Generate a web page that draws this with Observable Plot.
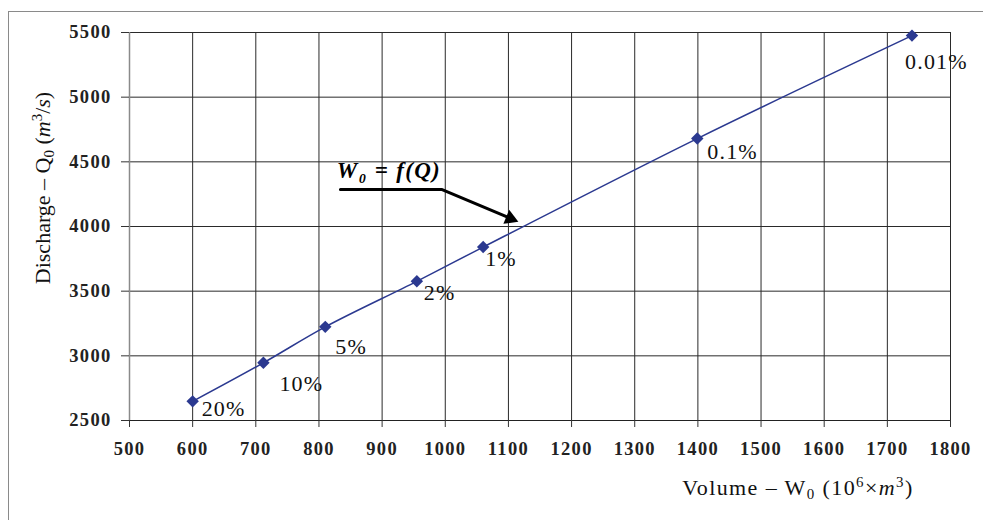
<!DOCTYPE html>
<html>
<head>
<meta charset="utf-8">
<script src="https://cdn.jsdelivr.net/npm/d3@7"></script>
<script src="https://cdn.jsdelivr.net/npm/@observablehq/plot@0.6"></script>
<style>
  body { margin: 0; background: #fff; }
  #wrap { position: relative; width: 983px; height: 520px; overflow: hidden; font-family: "Liberation Serif", serif; }
  #frame { position: absolute; left: 8px; top: 11px; width: 1000px; height: 600px; border-left: 1.5px solid #8a8a8a; border-top: 1.5px solid #8a8a8a; }
  .ttl { position: absolute; font-family: "Liberation Serif", serif; font-size: 22px; white-space: nowrap; color: #111; line-height: 1; }
  .ttl sub { font-size: 0.68em; vertical-align: -0.25em; }
  .ttl sup { font-size: 0.68em; vertical-align: 0.55em; }
  svg text { font-family: "Liberation Serif", serif !important; }
  .tick-lbl text { letter-spacing: 1.3px; }
  .pct text { letter-spacing: 1.2px; }
  .ann text { letter-spacing: 1.3px; }
</style>
</head>
<body>
<div id="wrap">
  <div id="frame"></div>
</div>
<script>
// Data
const volume    = [600, 712, 810, 955, 1060, 1399, 1739];          // W0 (10^6 m^3)
const discharge = [2648, 2946, 3224, 3576, 3841, 4680, 5476];      // Q0 (m^3/s)
const probLabels = ["20%", "10%", "5%", "2%", "1%", "0.1%", "0.01%"];
const labelDx = [9, 16, 10, 7, 2, 10, -7];
const labelDy = [8, 21, 20, 12, 12, 13, 26];

const xTicks = d3.range(500, 1801, 100);
const yTicks = d3.range(2500, 5501, 500);

// Annotation "W0 = f(Q)" with its arrow (data coordinates)
const annText = [{x: 828, y: 4376, t: "W\u2080 = f(Q)"}];
const annPathX = [834, 995, 1104];
const annPathY = [4286, 4286, 4062];
const annHead = [{x: 1103, y: 4062}];

const points = volume.map((v, i) => ({x: v, y: discharge[i], label: probLabels[i]}));
const annPath = annPathX.map((x, i) => ({x, y: annPathY[i]}));

const navy = "#2b3990";
const serif = "Liberation Serif";

const labelMarks = points.map((p, i) => Plot.text([p], {
  x: "x", y: "y", text: "label", textAnchor: "start", lineAnchor: "middle",
  dx: labelDx[i], dy: labelDy[i], fontSize: 22, fontFamily: serif, fill: "#111", className: "pct"
}));

const chart = Plot.plot({
  width: 983,
  height: 520,
  marginLeft: 129,
  marginRight: 33,
  marginTop: 32,
  marginBottom: 100,
  style: {background: "transparent", overflow: "visible", fontFamily: serif},
  x: {domain: [500, 1800]},
  y: {domain: [2500, 5500]},
  marks: [
    Plot.gridX(xTicks, {stroke: "#2a2a2a", strokeOpacity: 1, strokeWidth: 1}),
    Plot.gridY(yTicks, {stroke: "#2a2a2a", strokeOpacity: 1, strokeWidth: 1}),
    Plot.ruleX([500], {stroke: "#8a8a8a", strokeWidth: 1.5}),
    Plot.ruleY([2500], {stroke: "#222", strokeWidth: 1.2}),
    Plot.axisX(xTicks, {tickSize: 7, tickPadding: 14, tickFormat: d3.format("d"), fontSize: 18.5, fontWeight: "bold", fontFamily: serif, fill: "#222", stroke: "#333", label: null, className: "tick-lbl"}),
    Plot.axisY(yTicks, {tickSize: 8, tickPadding: 10, tickFormat: d3.format("d"), fontSize: 18.5, fontWeight: "bold", fontFamily: serif, fill: "#222", stroke: "#333", label: null, className: "tick-lbl"}),
    Plot.line(points, {x: "x", y: "y", stroke: navy, strokeWidth: 1.5, curve: "catmull-rom"}),
    Plot.dot(points, {x: "x", y: "y", symbol: "diamond2", r: 5.6, fill: navy, stroke: "none"}),
    ...labelMarks,
    Plot.line(annPath, {x: "x", y: "y", stroke: "#000", strokeWidth: 3}),
    Plot.dot(annHead, {x: "x", y: "y", symbol: "triangle", r: 5.6, fill: "#000", stroke: "none", rotate: 112.6}),
    Plot.text(annText, {x: "x", y: "y", text: "t", textAnchor: "start", lineAnchor: "bottom", fontSize: 23, fontWeight: "bold", fontStyle: "italic", fontFamily: serif, fill: "#000", className: "ann"})
  ]
});
chart.style.position = "absolute";
chart.style.left = "0px";
chart.style.top = "0px";
const wrap = document.getElementById("wrap");
wrap.appendChild(chart);

const yTitle = document.createElement("div");
yTitle.className = "ttl";
yTitle.innerHTML = "Discharge \u2013 Q<sub>0</sub> (<i>m</i><sup>3</sup>/<i>s</i>)";
yTitle.style.left = "43px";
yTitle.style.top = "188px";
yTitle.style.transform = "translate(-50%, -50%) rotate(-90deg)";
wrap.appendChild(yTitle);

const xTitle = document.createElement("div");
xTitle.className = "ttl";
xTitle.innerHTML = "Volume \u2013 W<sub>0</sub> (10<sup>6</sup>\u00d7<i>m</i><sup>3</sup>)";
xTitle.style.left = "798px";
xTitle.style.top = "488px";
xTitle.style.letterSpacing = "1.4px";
xTitle.style.transform = "translate(-50%, -50%)";
wrap.appendChild(xTitle);
</script>
</body>
</html>
